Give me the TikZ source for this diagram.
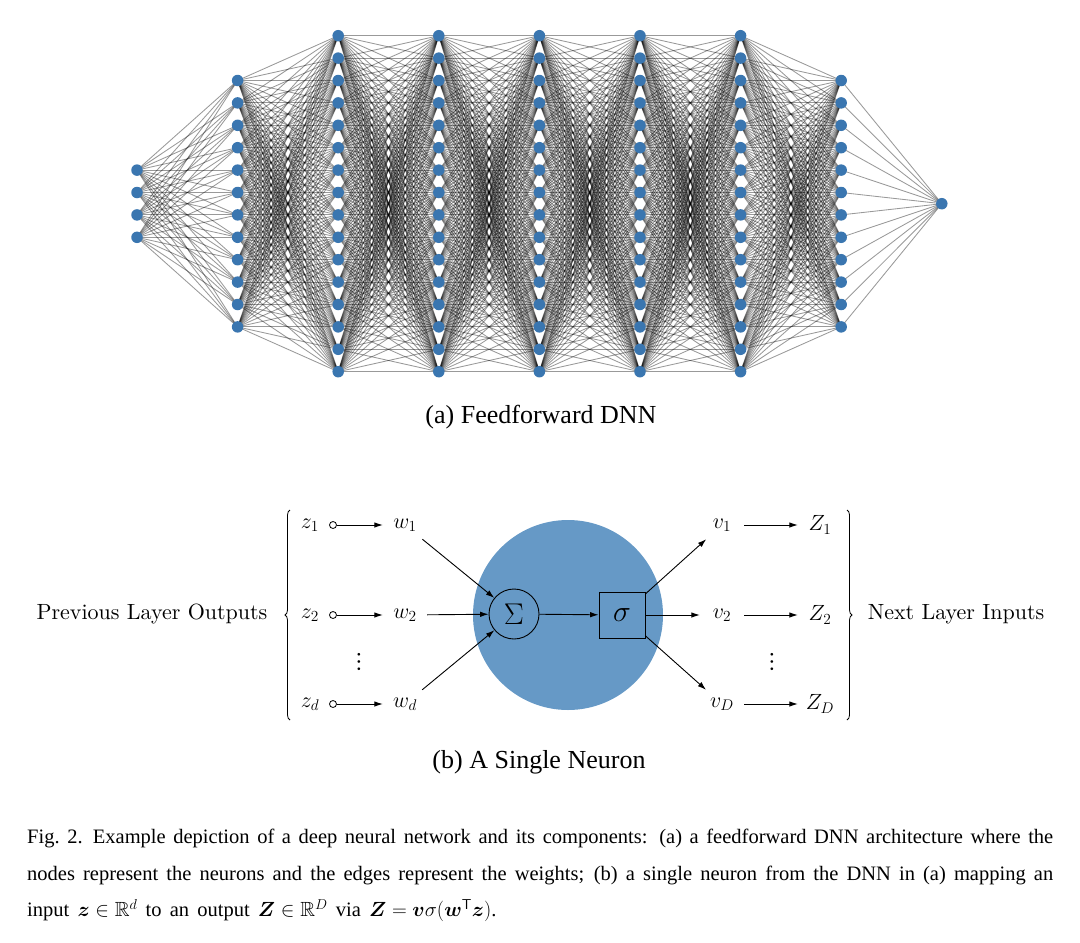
\RequirePackage{fix-cm}
\documentclass[tikz,border=0pt]{standalone}
\usepackage{amsmath,amssymb}
\usepackage{fontspec}
\newfontfamily\capfont{Liberation Serif}
\newfontfamily\lmten{lmroman10-regular}[Extension=.otf]
\newfontfamily\lmmath{latinmodern-math.otf}
\usetikzlibrary{arrows.meta,decorations.pathreplacing}
\definecolor{nodeblue}{HTML}{3A76B0}
\definecolor{cellblue}{HTML}{6699C6}
\pgfdeclarelayer{bg}
\pgfsetlayers{bg,main}
\begin{document}
\begin{tikzpicture}[x=1pt,y=-1pt,
  neuron/.style={circle,fill=nodeblue,inner sep=0pt,minimum size=11.5pt},
  edge/.style={draw=black,opacity=0.4,line width=0.85pt},
  lbl/.style={font=\lmten\fontsize{22}{26}\selectfont,inner sep=0pt,minimum width=44pt,minimum height=28pt},
  plain/.style={font=\lmten\fontsize{22}{26}\selectfont,inner sep=0pt},
  dotsty/.style={font=\lmmath\fontsize{26}{30}\selectfont,inner sep=0pt},
  big/.style={font=\lmten\fontsize{30}{34}\selectfont,inner sep=0pt,line width=0.9pt},
  port/.style={circle,draw,fill=white,line width=0.8pt,minimum size=7pt,inner sep=0pt},
  arr/.style={-{Latex[length=8.5pt,width=5.5pt]},line width=0.9pt},
  bracestyle/.style={decorate,decoration={brace,amplitude=5pt},line width=0.8pt},
  subcap/.style={font=\capfont\fontsize{26}{30}\selectfont,inner sep=0pt}]
\useasboundingbox (0,0) rectangle (1080,943);

% ---------- (a) feedforward network ----------
\foreach \n [count=\l from 0] in {4,12,16,16,16,16,16,12,1} {
  \foreach \i in {1,...,\n} {
    \node[neuron] (n-\l-\i) at ({137+100.6*\l},{203.7+(\i-(\n+1)/2)*22.4}) {};
  }
}
\begin{pgfonlayer}{bg}
\foreach \a/\b [count=\l from 0] in {4/12,12/16,16/16,16/16,16/16,16/16,16/12,12/1} {
  \pgfmathtruncatemacro\m{\l+1}
  \foreach \i in {1,...,\a} {
    \foreach \j in {1,...,\b} {
      \draw[edge] (n-\l-\i.center) -- (n-\m-\j.center);
    }
  }
}
\end{pgfonlayer}
\node[subcap] (capa) at (541,417) {(a) Feedforward DNN};

% ---------- (b) single neuron ----------
\fill[cellblue] (568,615) circle (95);
\node[big,circle,draw,minimum size=50pt] (S) at (514,614) {$\Sigma$};
\node[big,draw,minimum size=46pt] (sg) at (622,615) {$\sigma$};

\node[plain] (z1) at (310,525) {$z_1$};
\node[plain] (z2) at (310,615) {$z_2$};
\node[plain] (zd) at (310,704) {$z_d$};
\node[port] (c1) at (333,525) {};
\node[port] (c2) at (333,615) {};
\node[port] (cd) at (333,704) {};
\node[lbl] (w1) at (405,525) {$w_1$};
\node[lbl] (w2) at (405,615) {$w_2$};
\node[lbl] (wd) at (405,704) {$w_d$};
\node[dotsty] (dl) at (359,662) {⋮};

\draw[arr] (c1) -- (w1);
\draw[arr] (c2) -- (w2);
\draw[arr] (cd) -- (wd);
\draw[arr] (w1) -- (S);
\draw[arr] (w2) -- (S);
\draw[arr] (wd) -- (S);
\draw[arr] (S) -- (sg);

\node[lbl] (v1) at (722,525) {$v_1$};
\node[lbl] (v2) at (722,615) {$v_2$};
\node[lbl] (vD) at (722,704) {$v_D$};
\node[lbl] (Z1) at (820,525) {$Z_1$};
\node[lbl] (Z2) at (820,615) {$Z_2$};
\node[lbl] (ZD) at (820,704) {$Z_D$};
\node[dotsty] (dr) at (772,662) {⋮};

\draw[arr] (sg) -- (v1);
\draw[arr] (sg) -- (v2);
\draw[arr] (sg) -- (vD);
\draw[arr] (v1) -- (Z1);
\draw[arr] (v2) -- (Z2);
\draw[arr] (vD) -- (ZD);

\coordinate (lb1) at (290,720);
\coordinate (lb2) at (290,510);
\coordinate (rb1) at (847,510);
\coordinate (rb2) at (847,720);
\draw[bracestyle] (lb1) -- (lb2);
\draw[bracestyle] (rb1) -- (rb2);

\node[plain] (prev) at (152,614) {Previous Layer Outputs};
\node[plain] (next) at (956,614) {Next Layer Inputs};

\node[subcap] (capb) at (539,762) {(b) A Single Neuron};

% ---------- caption ----------
\node[anchor=north west,text width=1026pt,align=justify,inner sep=0pt,
      font=\capfont\fontsize{20.5}{36.5}\selectfont] (cap) at (27,829)
 {Fig.~2.\enspace Example depiction of a deep neural network and its components: (a) a feedforward DNN architecture where the\linebreak
  nodes represent the neurons and the edges represent the weights; (b) a single neuron from the DNN in (a) mapping an\linebreak
  \spaceskip=0.4em plus 0.1em\relax
  input $\boldsymbol{z}\in\mathbb{R}^d$ to an output $\boldsymbol{Z}\in\mathbb{R}^D$ via $\boldsymbol{Z}=\boldsymbol{v}\sigma(\boldsymbol{w}^{\mathsf{T}}\boldsymbol{z})$.};
\end{tikzpicture}
\end{document}
